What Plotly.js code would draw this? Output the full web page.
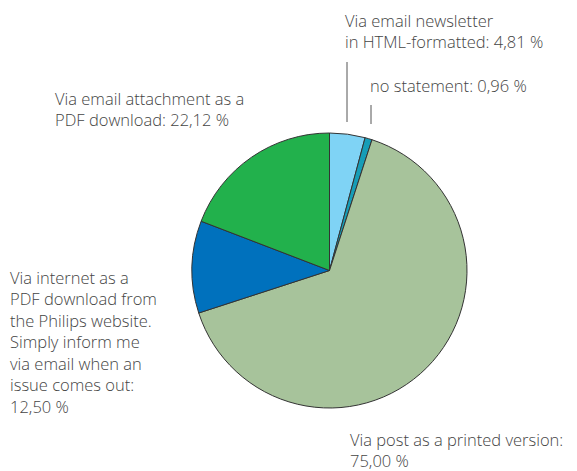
<!DOCTYPE html>
<html>
<head>
<meta charset="utf-8">
<script src="https://cdn.plot.ly/plotly-3.0.1.min.js"></script>
<style>html,body{margin:0;padding:0;background:#fff;}#chart{width:577px;height:471px;}</style>
</head>
<body>
<div id="chart"></div>
<script>
const categories = [
  "Via email newsletter in HTML-formatted",
  "no statement",
  "Via post as a printed version",
  "Via internet as a PDF download from the Philips website. Simply inform me via email when an issue comes out",
  "Via email attachment as a PDF download"
];
const values = [4.81, 0.96, 75.00, 12.50, 22.12];
const valueLabels = ["4,81 %", "0,96 %", "75,00 %", "12,50 %", "22,12 %"];
const colors = ["#7fd3f5", "#169db7", "#a7c39b", "#0071bd", "#22b14c"];

// label lines (text layout), one entry per category
const labelLines = [
  ["Via email newsletter", "in HTML-formatted: " + valueLabels[0]],
  ["no statement: " + valueLabels[1]],
  ["Via post as a printed version:", valueLabels[2]],
  ["Via internet as a", "PDF download from", "the Philips website.", "Simply inform me", "via email when an", "issue comes out:", valueLabels[3]],
  ["Via email attachment as a", "PDF download: " + valueLabels[4]]
];
// label anchor positions in pixels (left x, first line center y)
const labelPos = [[345, 20], [370, 86], [350, 439], [10, 278], [55, 98.5]];

const W = 577, H = 471, FS = 16.5, LH = FS * 1.3;
const px = x => x / W, py = y => 1 - y / H;

const annotations = labelLines.map((lines, i) => ({
  xref: 'paper', yref: 'paper',
  x: px(labelPos[i][0] - 2),
  y: py(labelPos[i][1] + (lines.length - 1) * LH / 2),
  xanchor: 'left', yanchor: 'middle', align: 'left',
  text: lines.join('<br>'), showarrow: false,
  font: {family: '"Open Sans", sans-serif', size: FS, weight: 300, color: '#444'}
}));

const shapes = [
  {type: 'line', xref: 'paper', yref: 'paper', x0: px(347), x1: px(347), y0: py(62), y1: py(122), line: {color: '#555', width: 1}},
  {type: 'line', xref: 'paper', yref: 'paper', x0: px(371), x1: px(371), y0: py(105), y1: py(124), line: {color: '#555', width: 1}}
];

const cx = 329.5, cy = 270.5, r = 137.5;
const trace = {
  type: 'pie',
  labels: categories,
  values: values,
  sort: false,
  direction: 'clockwise',
  rotation: 0,
  textinfo: 'none',
  hoverinfo: 'label+percent',
  marker: {colors: colors, line: {color: '#333', width: 1}},
  domain: {x: [px(cx - r), px(cx + r)], y: [py(cy + r), py(cy - r)]},
  showlegend: false
};

Plotly.newPlot('chart', [trace], {
  width: W, height: H,
  margin: {l: 0, r: 0, t: 0, b: 0},
  paper_bgcolor: '#fff',
  showlegend: false,
  annotations: annotations,
  shapes: shapes
}, {displayModeBar: false, staticPlot: true});
</script>
</body>
</html>
